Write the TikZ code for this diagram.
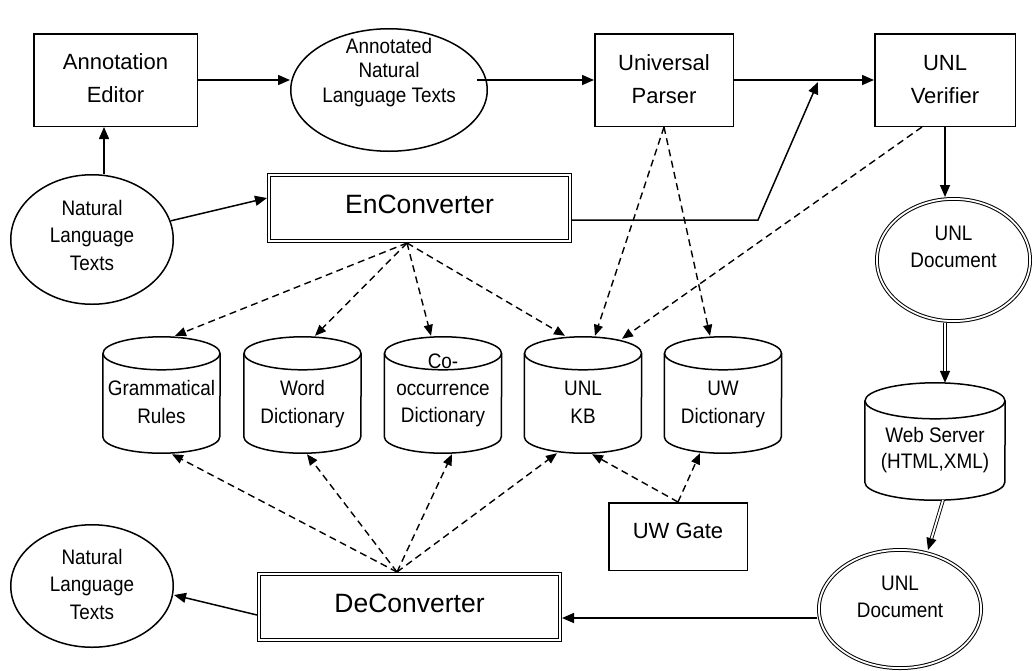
\documentclass[tikz,border=0pt]{standalone}
\usepackage{fontspec}
\setmainfont{Liberation Sans}
\newfontfamily\nsf[FakeStretch=0.9]{Liberation Sans}
\usetikzlibrary{arrows.meta,shapes.geometric,calc}
\newcommand\ptxt[2]{\raisebox{#1}[0pt][0pt]{\begin{tabular}[t]{@{}c@{}}#2\end{tabular}}}
\newcommand\drawcyl[3]{%
 \draw[ln] ([yshift=-#3]#1.north west) -- ([yshift=#3]#1.south west)
   arc[start angle=180,end angle=360,x radius=#2,y radius=#3] -- ([yshift=-#3]#1.north east);
 \draw[ln] ([yshift=-#3]#1.north) ellipse[x radius=#2,y radius=#3];}
\tikzset{
 ln/.style={line width=1.5pt},
 box/.style={draw, line width=1.5pt, rectangle, inner sep=0pt},
 ell/.style={draw, line width=1.5pt, ellipse, inner sep=0pt},
 dblbox/.style={draw, rectangle, line width=1pt, double, double distance=1.8pt, inner sep=0pt, outer sep=1.9pt},
 dblell/.style={draw, ellipse, line width=1pt, double, double distance=1.8pt, inner sep=0pt, outer sep=1.9pt},
 cyl/.style={inner sep=0pt},
 arr/.style={line width=1.5pt, -{Triangle[length=12pt,width=10pt]}},
 darr/.style={line width=1.4pt, dash pattern=on 7pt off 4.5pt, -{Triangle[length=11pt,width=9pt]}},
 dblline/.style={line width=0.9pt, double, double distance=1.8pt, shorten >=12pt},
 bigtxt/.style={font=\fontsize{22}{33}\selectfont},
 hugetxt/.style={font=\fontsize{26.5}{30}\selectfont},
 smalltxt/.style={font=\nsf\fontsize{21}{#1}\selectfont},
 smalltxt/.default=27.5,
}
\begin{document}
\begin{tikzpicture}[x=1pt,y=-1pt]
\useasboundingbox[fill=white] (0,0) rectangle (1032,670);

% top row
\node[box, bigtxt, minimum width=163.5pt, minimum height=92.5pt] (ae) at (115.5,80) {\ptxt{11pt}{Annotation\\Editor}};
\node[ell, smalltxt=24.5, minimum width=196.5pt, minimum height=122.5pt] (ann) at (389,90) {\ptxt{37pt}{Annotated\\Natural\\Language Texts}};
\node[box, bigtxt, minimum width=138.5pt, minimum height=92.5pt] (up) at (664,80) {\ptxt{10pt}{Universal\\Parser}};
\node[box, bigtxt, minimum width=140.5pt, minimum height=92.5pt] (ver) at (945,80) {\ptxt{10pt}{UNL\\Verifier}};

% second row
\node[ell, smalltxt, minimum width=162.5pt, minimum height=129.5pt] (nlt1) at (92,239.5) {\ptxt{24.5pt}{Natural\\Language\\Texts}};
\node[dblbox, hugetxt, minimum width=301.2pt, minimum height=66.2pt] (enc) at (419.5,208) {\ptxt{-5pt}{EnConverter}};
\node[dblell, smalltxt=27, minimum width=153.2pt, minimum height=122.2pt] (doc1) at (953.5,260) {\ptxt{20pt}{UNL\\Document}};

% cylinders
\node[cyl, smalltxt=28, minimum width=117pt, minimum height=116pt] (gr) at (161.5,395) {\ptxt{0pt}{Grammatical\\Rules}};
\node[cyl, smalltxt=28, minimum width=117pt, minimum height=116pt] (wd) at (302.5,395) {\ptxt{0pt}{Word\\Dictionary}};
\node[cyl, smalltxt=27, minimum width=117pt, minimum height=116pt] (co) at (443,395) {\ptxt{27pt}{Co-\\occurrence\\Dictionary}};
\node[cyl, smalltxt=28, minimum width=117pt, minimum height=116pt] (kb) at (583,395) {\ptxt{0pt}{UNL\\KB}};
\node[cyl, smalltxt=28, minimum width=117pt, minimum height=116pt] (uwd) at (723,395) {\ptxt{0pt}{UW\\Dictionary}};
\node[cyl, smalltxt=26, minimum width=140pt, minimum height=117pt] (ws) at (935,441.5) {\ptxt{-0.5pt}{Web Server\\(HTML,XML)}};
\drawcyl{gr}{58.5pt}{16.5pt}
\drawcyl{wd}{58.5pt}{16.5pt}
\drawcyl{co}{58.5pt}{16.5pt}
\drawcyl{kb}{58.5pt}{16.5pt}
\drawcyl{uwd}{58.5pt}{16.5pt}
\drawcyl{ws}{70pt}{18pt}

% bottom
\node[box, bigtxt, minimum width=138.5pt, minimum height=67.5pt] (uwg) at (678,536.5) {\ptxt{-1.5pt}{UW Gate}};
\node[dblbox, hugetxt, minimum width=301.2pt, minimum height=66.2pt] (dec) at (409.5,607) {\ptxt{-5pt}{DeConverter}};
\node[ell, smalltxt, minimum width=162.5pt, minimum height=122.5pt] (nlt2) at (92,586) {\ptxt{22pt}{Natural\\Language\\Texts}};
\node[dblell, smalltxt=27, minimum width=162.2pt, minimum height=118.2pt] (doc2) at (900,609) {\ptxt{19pt}{UNL\\Document}};

% solid connectors
\draw[arr] ($(nlt1.north)+(12,0)$) -- ($(ae.south)+(-11.5,0)$);
\draw[arr] (nlt1) -- ($(enc.west)+(0,-10)$);
\draw[arr] (ae.east) -- (ae.east -| ann.west);
\draw[arr] ($(ann.east |- up.west)+(-11,0)$) -- (up.west);
\draw[arr] (up.east) -- (ver.west);
\coordinate (j) at ($(up.east)!0.6!(ver.west)$);
\draw[arr] ($(enc.east)+(0,12)$) -- ++(186,0) -- ($(j)+(0,2)$);
\draw[arr] (ver.south) -- (ver.south |- doc1.north);
\draw[arr] (ver.south |- doc1.south) -- (ver.south |- ws.north);
\draw[dblline] (ver.south |- doc1.south) -- (ver.south |- ws.north);
\coordinate (wsb) at ($(ws.south)+(8,0)$);
\coordinate (d2t) at ($(doc2.north)+(28,2)$);
\draw[arr] (wsb) -- (d2t);
\draw[dblline] (wsb) -- (d2t);
\coordinate (d2w) at ($(doc2.west)+(0,9)$);
\draw[arr] (d2w) -- (d2w -| dec.east);
\draw[arr] ($(dec.west)+(0,8)$) -- ($(nlt2.east)+(0,9)$);

% dashed connectors
\coordinate (eb) at ($(enc.south)+(-12.5,0)$);
\draw[darr] (eb) -- ($(gr.north)+(13.5,-1)$);
\draw[darr] (eb) -- ($(wd.north)+(12.5,-1)$);
\draw[darr] (eb) -- ($(co.north)+(-12,-1)$);
\draw[darr] (eb) -- ($(kb.north)+(-18,-1)$);
\draw[darr] (up.south) -- ($(kb.north)+(12,-1)$);
\draw[darr] (up.south) -- ($(uwd.north)+(-13,-1)$);
\draw[darr] ($(ver.south)+(-23,0)$) -- ($(kb.north)+(39,2)$);
\coordinate (db) at ($(dec.north)+(-12.5,0)$);
\draw[darr] (db) -- ($(gr.south)+(10.5,1)$);
\draw[darr] (db) -- ($(wd.south)+(4.5,1)$);
\draw[darr] (db) -- ($(co.south)+(9,1)$);
\draw[darr] (db) -- ($(kb.south)+(-26,0)$);
\draw[darr] (uwg.north) -- ($(kb.south)+(9,1)$);
\draw[darr] (uwg.north) -- ($(uwd.south)+(-23,0)$);
\end{tikzpicture}
\end{document}
